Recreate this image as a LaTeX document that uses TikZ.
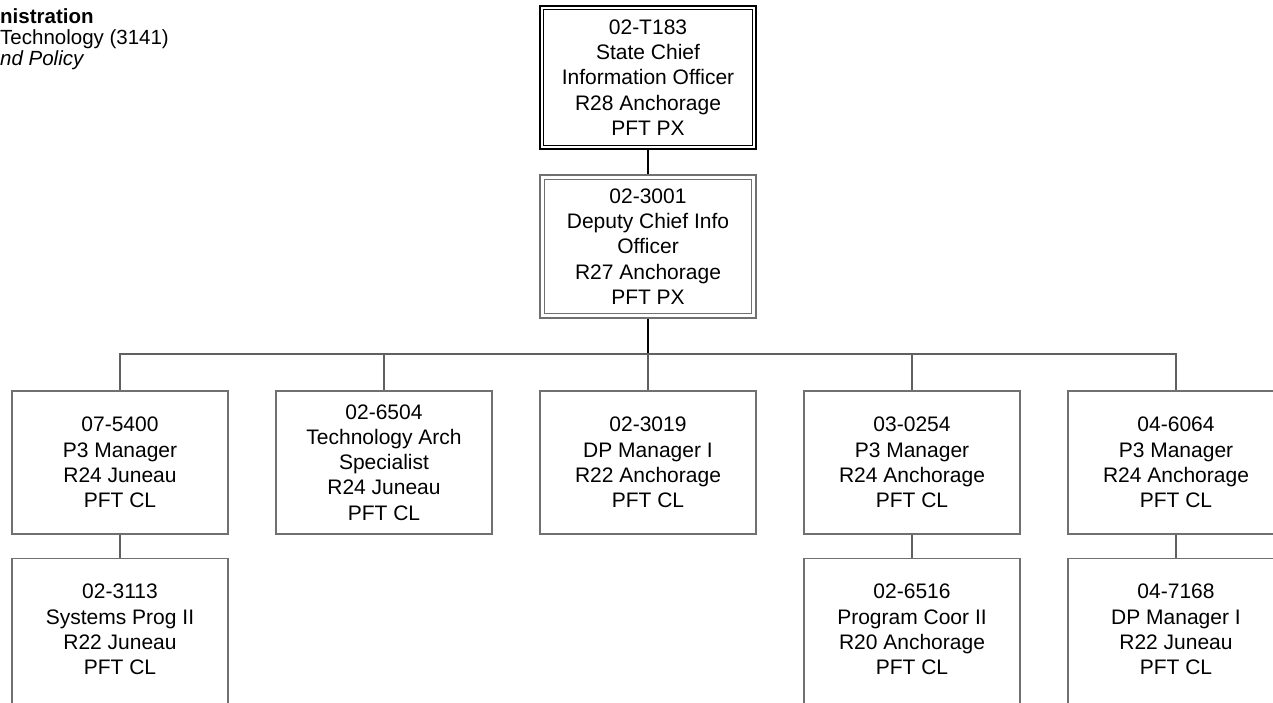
\documentclass[tikz,border=0pt]{standalone}
\usepackage{fontspec}
\setmainfont{Liberation Sans}
\definecolor{boxgray}{HTML}{707070}
\definecolor{linegray}{HTML}{606060}
\begin{document}
\begin{tikzpicture}[x=1pt,y=-1pt,
  box/.style={draw=boxgray, line width=1.3pt, minimum width=216pt, minimum height=143pt,
    inner sep=0pt, align=center, font=\fontsize{21}{25.2}\selectfont},
  txt/.style={inner sep=0pt, align=center, font=\fontsize{21}{25.2}\selectfont},
  conn/.style={draw=linegray, line width=1.3pt},
  topconn/.style={draw=black, line width=2pt}]
\useasboundingbox (0,0) rectangle (1273,702);
\clip (0,0) rectangle (1273,702);

% header (cut at the left edge)
\node[anchor=north west, inner sep=0pt, align=left, font=\fontsize{20.5}{21}\selectfont] (hdr) at (0,8)
  {\textbf{nistration}\\Technology (3141)\\\textit{nd Policy}};

% top box
\node[box, draw=black, line width=2.6pt] (chief) at (648,77.5)
  {02-T183\\State Chief\\Information Officer\\R28 Anchorage\\PFT PX};
\draw[black, line width=1.2pt] ([shift={(5,5)}]chief.north west) rectangle ([shift={(-5,-5)}]chief.south east);

% deputy
\node[box] (dep) at (648,246.5)
  {02-3001\\Deputy Chief Info\\Officer\\R27 Anchorage\\PFT PX};
\draw[boxgray, line width=1.3pt] ([shift={(5,5)}]dep.north west) rectangle ([shift={(-5,-5)}]dep.south east);

\coordinate (bus) at (648,354);
\draw[topconn] (chief.south) -- (dep.north);
\draw[topconn] (dep.south) -- (bus);

% first row
\node[box] (b1) at (120,462.5) {07-5400\\P3 Manager\\R24 Juneau\\PFT CL};
\node[box] (b2) at (384,462.5) {02-6504\\Technology Arch\\Specialist\\R24 Juneau\\PFT CL};
\node[box] (b3) at (648,462.5) {02-3019\\DP Manager I\\R22 Anchorage\\PFT CL};
\node[box] (b4) at (912,462.5) {03-0254\\P3 Manager\\R24 Anchorage\\PFT CL};
\node[box] (b5) at (1176,462.5) {04-6064\\P3 Manager\\R24 Anchorage\\PFT CL};

\foreach \n in {b1,b2,b3,b4,b5} \draw[conn] (bus) -| (\n.north);

% second row (boxes run past the bottom edge)
\node[box, anchor=north, minimum height=170pt] (c1) at (120,558) {};
\node[txt] (c1t) at (120,629.5) {02-3113\\Systems Prog II\\R22 Juneau\\PFT CL};
\node[box, anchor=north, minimum height=170pt] (c4) at (912,558) {};
\node[txt] (c4t) at (912,629.5) {02-6516\\Program Coor II\\R20 Anchorage\\PFT CL};
\node[box, anchor=north, minimum height=170pt] (c5) at (1176,558) {};
\node[txt] (c5t) at (1176,629.5) {04-7168\\DP Manager I\\R22 Juneau\\PFT CL};

\draw[conn] (b1.south) -- (c1.north);
\draw[conn] (b4.south) -- (c4.north);
\draw[conn] (b5.south) -- (c5.north);
\end{tikzpicture}
\end{document}
